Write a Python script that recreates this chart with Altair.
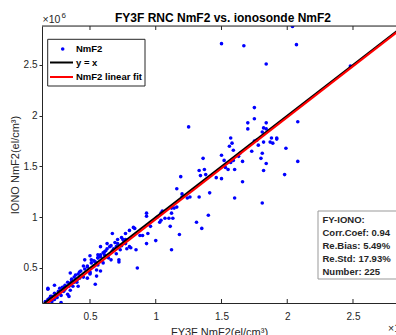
import altair as alt
import pandas as pd

# NmF2 values in units of 1e6 el/cm^3
fy3f_nmf2 = [
    1.50, 1.67, 2.07, 2.04, 1.84, 2.48, 1.75, 1.75,
    2.08, 1.88, 1.92, 1.92, 1.89, 1.87, 1.99, 2.08, 1.98,
    1.70, 1.70, 1.84, 1.84, 1.81, 1.82,
    1.82, 1.77, 1.75, 1.78, 1.73, 1.81, 1.80, 1.84, 1.82,
    1.66, 1.60, 1.81,
    1.57, 1.58, 1.56, 1.59, 1.64, 1.66, 1.63, 1.59, 1.57, 1.52, 1.50, 1.53, 1.55, 1.60, 1.50, 1.46,
    1.36, 1.37, 1.33, 1.34, 1.38, 1.19, 1.25,
    1.16, 1.20, 1.20, 1.24, 1.26, 1.33, 1.41, 1.40,
    1.12, 1.14, 1.16, 1.05, 1.07, 1.10, 1.13,
    1.31, 1.35, 1.12, 1.11, 1.18, 1.04, 1.01, 1.04, 1.03, 0.96, 0.93, 0.93, 0.94, 1.00, 0.90, 0.88,
    0.84, 0.93, 0.77, 0.76, 0.75, 0.67, 0.63, 0.65, 0.80, 0.81, 0.85, 0.68, 0.73, 0.58, 1.12,
    0.86, 0.54, 0.28, 0.35, 0.18,
    0.71, 0.74, 0.67, 0.70, 0.62, 0.60, 0.56, 0.58, 0.56, 0.61, 0.64, 0.66, 0.72, 0.72,
    0.50, 0.51, 0.46, 0.45, 0.48, 0.53, 0.54, 0.56, 0.58, 0.55, 0.50, 0.48, 0.50, 0.42, 0.39,
    0.40, 0.36, 0.35, 0.34, 0.32, 0.31, 0.30, 0.29, 0.26, 0.24, 0.21, 0.18, 0.23, 0.27, 0.37,
    0.35, 0.34, 0.33, 0.28, 0.25, 0.23, 0.21, 0.19, 0.18, 0.16,
    0.78, 0.77, 0.55, 0.42, 0.41, 0.38, 0.45,
    0.20, 0.23, 0.26, 0.29, 0.31, 0.33, 0.36, 0.38, 0.41, 0.43, 0.46, 0.48, 0.51, 0.53, 0.56,
    0.58, 0.61, 0.63, 0.66, 0.69, 0.71, 0.74, 0.77, 0.80, 0.83, 0.30, 0.40, 0.50, 0.60, 0.70,
]
iono_nmf2 = [
    2.71, 2.69, 2.70, 2.88, 2.51, 2.49, 2.08, 1.97,
    1.94, 1.78, 1.78, 1.77, 1.73, 1.74, 1.68, 1.55, 1.42,
    1.93, 1.87, 1.93, 1.87, 1.84, 1.88,
    1.74, 1.76, 1.75, 1.71, 1.65, 1.63, 1.58, 1.53, 1.46,
    1.35, 1.19, 1.14,
    1.78, 1.73, 1.70, 1.66, 1.63, 1.55, 1.60, 1.56, 1.54, 1.56, 1.61, 1.49, 1.47, 1.47, 1.38, 1.39,
    1.58, 1.47, 1.46, 1.41, 1.42, 1.40, 1.89,
    1.28, 1.23, 1.20, 1.19, 1.20, 1.20, 1.24, 1.02,
    1.09, 1.09, 1.10, 1.06, 0.99, 0.99, 0.99,
    0.95, 0.89, 1.04, 0.91, 0.83, 1.04, 1.00, 0.97, 0.95, 0.91, 1.04, 1.01, 0.84, 0.77, 0.82, 0.82,
    0.89, 0.74, 0.78, 0.76, 0.78, 0.84, 0.74, 0.71, 0.71, 0.70, 0.68, 0.69, 0.68, 0.71, 0.68,
    0.50, 0.34, 0.16, 0.45, 0.30,
    0.74, 0.72, 0.67, 0.71, 0.67, 0.65, 0.63, 0.61, 0.60, 0.63, 0.60, 0.58, 0.58, 0.56,
    0.62, 0.58, 0.58, 0.52, 0.51, 0.52, 0.56, 0.53, 0.47, 0.48, 0.46, 0.40, 0.44, 0.46, 0.43,
    0.38, 0.37, 0.35, 0.32, 0.31, 0.29, 0.31, 0.28, 0.25, 0.23, 0.22, 0.29, 0.33, 0.30, 0.32,
    0.28, 0.22, 0.24, 0.23, 0.21, 0.19, 0.17, 0.20, 0.19, 0.17,
    0.69, 0.74, 0.42, 0.40, 0.32, 0.36, 0.41,
    0.22, 0.25, 0.27, 0.31, 0.33, 0.36, 0.39, 0.41, 0.44, 0.47, 0.49, 0.52, 0.55, 0.57, 0.60,
    0.63, 0.66, 0.69, 0.72, 0.75, 0.78, 0.80, 0.84, 0.87, 0.90, 0.27, 0.36, 0.45, 0.55, 0.64,
]

line_x = [0.10, 2.95]
fit_slope = 1.005
fit_intercept = -0.025
tick_values = [0.5, 1.0, 1.5, 2.0, 2.5]
x_domain = [0.135, 2.827]
y_domain = [0.155, 2.884]

title_text = "FY3F RNC NmF2 vs. ionosonde NmF2"
legend_labels = ["NmF2", "y = x", "NmF2 linear fit"]
stats_lines = ["FY-IONO:", "Corr.Coef: 0.94", "Re.Bias: 5.49%", "Re.Std: 17.93%", "Number: 225"]

FONT = "Liberation Sans"
AX = "#262626"
W, H = 354, 277

pts = pd.DataFrame({"x": fy3f_nmf2, "y": iono_nmf2})
ident = pd.DataFrame({"x": line_x, "y": line_x})
fit = pd.DataFrame({"x": line_x, "y": [fit_slope * v + fit_intercept for v in line_x]})
ticks = pd.DataFrame({"x": tick_values})
one = pd.DataFrame({"k": [0]})

xscale = alt.Scale(domain=x_domain, nice=False, zero=False)
yscale = alt.Scale(domain=y_domain, nice=False, zero=False)
xaxis = alt.Axis(values=tick_values, format="~g", ticks=False, grid=False,
                 labelPadding=8, labelFontSize=10, labelColor=AX, labelFont=FONT,
                 domainColor=AX, title="FY3F NmF2(el/cm³)", titleFont=FONT,
                 titleFontSize=11, titleFontWeight="normal", titleColor=AX, titlePadding=5)
yaxis = alt.Axis(values=tick_values, format="~g", tickSize=3, tickColor=AX, grid=False,
                 labelPadding=2, labelFontSize=10, labelColor=AX, labelFont=FONT,
                 domainColor=AX, title="IONO NmF2(el/cm³)", titleFont=FONT,
                 titleFontSize=11, titleFontWeight="normal", titleColor=AX, titlePadding=3)
X = alt.X("x:Q", scale=xscale, axis=xaxis)
Y = alt.Y("y:Q", scale=yscale, axis=yaxis)

points = alt.Chart(pts).mark_circle(size=13, color="#0000FF", opacity=1, clip=True).encode(x=X, y=Y)
black = alt.Chart(ident).mark_line(color="black", strokeWidth=2, clip=True).encode(x=X, y=Y)
red = alt.Chart(fit).mark_line(color="#FF0000", strokeWidth=2, clip=True).encode(x=X, y=Y)
bticks = alt.Chart(ticks).mark_rule(color=AX).encode(x=X, y=alt.value(H), y2=alt.value(H - 4))
tticks = alt.Chart(ticks).mark_rule(color=AX).encode(x=X, y=alt.value(0), y2=alt.value(4))
topline = alt.Chart(one).mark_rule(color=AX).encode(x=alt.value(0), x2=alt.value(W), y=alt.value(0))

title = alt.Chart(one).mark_text(text=title_text, font=FONT, fontSize=12, fontWeight="bold",
                                 color="black", align="center", baseline="alphabetic").encode(
    x=alt.value(181), y=alt.value(-4.5))

leg_box = alt.Chart(one).mark_rect(fill="white", stroke=AX, strokeWidth=1).encode(
    x=alt.value(5.7), x2=alt.value(103), y=alt.value(13.3), y2=alt.value(60))
leg_dot = alt.Chart(one).mark_circle(size=13, color="#0000FF", opacity=1).encode(
    x=alt.value(20.7), y=alt.value(23))
leg_black = alt.Chart(one).mark_rule(color="black", strokeWidth=2).encode(
    x=alt.value(8), x2=alt.value(31), y=alt.value(36.5))
leg_red = alt.Chart(one).mark_rule(color="#FF0000", strokeWidth=2).encode(
    x=alt.value(8), x2=alt.value(31), y=alt.value(51))
leg_text = alt.layer(*[
    alt.Chart(one).mark_text(text=t, font=FONT, fontSize=9.5, fontWeight="bold", color="black",
                             align="left", baseline="middle").encode(x=alt.value(34), y=alt.value(yy))
    for t, yy in zip(legend_labels, [23, 36.5, 51])
])

st_box = alt.Chart(one).mark_rect(fill="white", stroke="#999999", strokeWidth=1).encode(
    x=alt.value(276), x2=alt.value(362), y=alt.value(185), y2=alt.value(253))
st_text = alt.layer(*[
    alt.Chart(one).mark_text(text=t, font=FONT, fontSize=9.5, fontWeight="bold", color=AX,
                             align="left", baseline="middle").encode(x=alt.value(280.5), y=alt.value(yy))
    for t, yy in zip(stats_lines, [194, 207, 220, 233, 246])
])

exp_tl = alt.Chart(one).mark_text(text="×10", font=FONT, fontSize=10.5, color=AX, align="left",
                                  baseline="alphabetic").encode(x=alt.value(0.5), y=alt.value(-3.5))
exp_tl6 = alt.Chart(one).mark_text(text="6", font=FONT, fontSize=8, color=AX, align="left",
                                   baseline="alphabetic").encode(x=alt.value(19.5), y=alt.value(-8.5))
exp_br = alt.Chart(one).mark_text(text="×10", font=FONT, fontSize=10.5, color=AX, align="left",
                                  baseline="alphabetic").encode(x=alt.value(346), y=alt.value(306))

chart = alt.layer(
    points, black, red, bticks, tticks, topline, title,
    leg_box, leg_dot, leg_black, leg_red, leg_text,
    st_box, st_text, exp_tl, exp_tl6, exp_br,
).properties(
    width=W, height=H,
    autosize=alt.AutoSizeParams(type="none"),
    padding={"left": 42, "top": 26, "right": 0, "bottom": 32},
).configure_view(stroke=None).configure(background="white")

chart.save("out.html", embed_options={"renderer": "svg", "actions": False})
